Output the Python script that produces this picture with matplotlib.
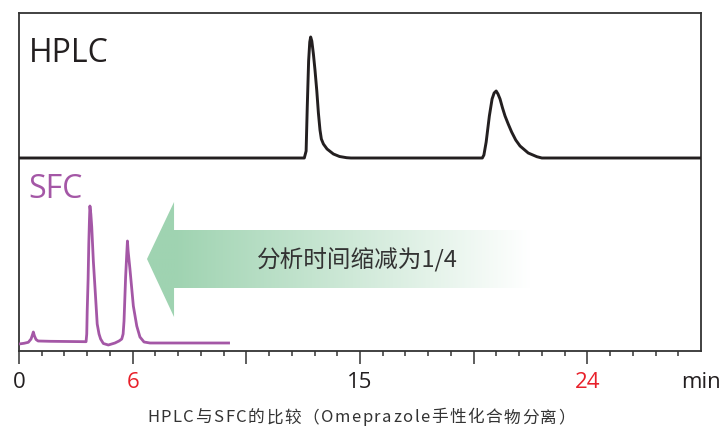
import numpy as np
import matplotlib
matplotlib.use("Agg")
import matplotlib.pyplot as plt
from matplotlib.patches import Polygon
from matplotlib.colors import LinearSegmentedColormap
from matplotlib.font_manager import FontProperties

plt.rcParams['font.family'] = ['Open Sans', 'Noto Sans CJK SC', 'DejaVu Sans']

# ---- data (time in axis units, signal in arbitrary units) ----
hplc_time = [0, 12.55, 12.63, 12.68, 12.74, 12.79, 12.83, 12.88, 12.95, 13.02, 13.10,
             13.17, 13.24, 13.30, 13.39, 13.55, 13.83, 14.10, 14.41, 14.60,
             20.38, 20.45, 20.55, 20.69, 20.81, 20.90, 20.99, 21.07, 21.16, 21.27, 21.38,
             21.52, 21.67, 21.85, 22.04, 22.40, 22.78, 23.00, 30.0]
hplc_signal = [0, 0, 7, 51, 97, 116, 121, 117, 104, 88, 67,
               45, 28, 19, 14, 9, 4, 1.5, 0.3, 0,
               0, 3, 16, 42, 59, 65, 67, 64, 59, 50, 42,
               34, 26, 18, 12, 5, 1.3, 0, 0]

sfc_time = [0, 0.22, 0.41, 0.53, 0.59, 0.63, 0.68, 0.75, 0.84, 1.36, 2.95,
            2.98, 3.00, 3.04, 3.07, 3.10, 3.12, 3.16, 3.20, 3.27, 3.36, 3.44,
            3.52, 3.59, 3.71, 3.93, 4.22, 4.40, 4.52, 4.58, 4.62, 4.69, 4.74,
            4.77, 4.80, 4.88, 5.03, 5.18, 5.32, 5.50, 5.76, 9.28]
sfc_signal = [7, 7.7, 8.7, 12, 16, 19, 15, 11.5, 10, 9.7, 9.3,
              17, 40, 72, 107, 132, 145, 137, 124, 90, 57, 27,
              17, 12, 7.5, 6, 8, 10, 12, 17, 30, 74, 97,
              110, 100, 82, 45, 25, 14, 9, 8, 8]

major_ticks = [0, 5, 10, 15, 20, 25]
major_labels = ['0', '6', '', '15', '', '24']
label_colors = ['#231f20', '#e8202a', '#231f20', '#231f20', '#231f20', '#e8202a']
minor_ticks = [t for t in range(1, 30) if t % 5 != 0]

caption = 'HPLC与SFC的比较（Omeprazole手性化合物分离）'
arrow_text = '分析时间缩减为1/4'

hplc_offset = 193
x_max = 30
y_max = 338

purple = '#a457a6'
dark = '#231f20'

fig = plt.figure(figsize=(7.26, 4.31), dpi=100)
ax = fig.add_axes([19 / 726, (431 - 352) / 431, (701 - 19) / 726, (352 - 14) / 431])

ax.plot(hplc_time, np.array(hplc_signal) + hplc_offset, color=dark, lw=2.1,
        solid_joinstyle='round', solid_capstyle='butt', zorder=3)
ax.plot(sfc_time, sfc_signal, color=purple, lw=2.0,
        solid_joinstyle='round', solid_capstyle='butt', zorder=3)

# gradient arrow
tip_x, head_x, end_x = 5.63, 6.82, 22.48
head_top, shaft_top, mid_y, shaft_bot, head_bot = 149, 121, 92, 63, 34
poly = Polygon([(tip_x, mid_y), (head_x, head_top), (head_x, shaft_top),
                (end_x, shaft_top), (end_x, shaft_bot), (head_x, shaft_bot),
                (head_x, head_bot)], closed=True, facecolor='none', edgecolor='none')
ax.add_patch(poly)
cmap = LinearSegmentedColormap.from_list('g', [(0, '#9fd3b1'),
                                               ((head_x - tip_x) / (end_x - tip_x), '#9fd3b1'),
                                               (1, '#ffffff')])
grad = np.linspace(0, 1, 512).reshape(1, -1)
im = ax.imshow(grad, cmap=cmap, extent=[tip_x, end_x, head_bot, head_top],
               aspect='auto', interpolation='bilinear', zorder=1)
im.set_clip_path(poly)

ax.text(14.87, mid_y, arrow_text, ha='center', va='center', fontsize=17, color='#333333',
        family=['Noto Sans CJK SC', 'DejaVu Sans'], zorder=4)

ax.text(0.45, 299, 'HPLC', ha='left', va='center', fontsize=23, color=dark)
ax.text(0.40, 162, 'SFC', ha='left', va='center', fontsize=23, color=purple)

ax.set_xlim(0, x_max)
ax.set_ylim(0, y_max)
ax.set_yticks([])
ax.set_xticks(major_ticks)
ax.set_xticklabels(major_labels)
ax.set_xticks(minor_ticks, minor=True)
for lab, c in zip(ax.get_xticklabels(), label_colors):
    lab.set_color(c)
ax.tick_params(axis='x', which='major', length=9.4, width=1.1, color='#333333',
               labelsize=16, pad=5)
ax.tick_params(axis='x', which='minor', length=3.6, width=1.1, color='#333333')
for s in ax.spines.values():
    s.set_linewidth(1.3)
    s.set_color('#333333')

ax.annotate('min', xy=(x_max, 0), xycoords='data', xytext=(0, -14.4),
            textcoords='offset points', ha='center', va='top', fontsize=16, color=dark)

# caption with slight letter spacing
fig.canvas.draw()
renderer = fig.canvas.get_renderer()
fp = FontProperties(family=['Noto Sans CJK SC', 'DejaVu Sans'], size=12)
widths = []
for ch in caption:
    w, h, d = renderer.get_text_width_height_descent(ch, fp, ismath=False)
    widths.append(w)
target_left, target_right = 147, 575
natural = sum(widths)
track = max(0.0, (target_right - target_left - natural) / (len(caption) - 1))
total = natural + track * (len(caption) - 1)
x = (target_left + target_right) / 2 - total / 2
y_cap = 431 - 418
for ch, w in zip(caption, widths):
    fig.text(x / 726, y_cap / 431, ch, ha='left', va='center', fontproperties=fp,
             color='#333333')
    x += w + track

fig.savefig('out.png', dpi=100)
